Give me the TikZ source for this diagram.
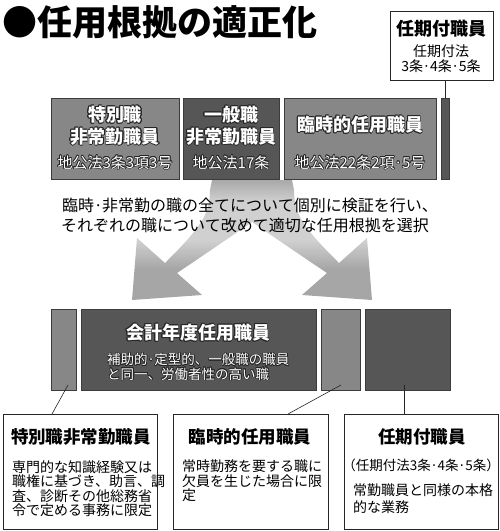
\documentclass[tikz,border=0pt]{standalone}
\usepackage{fontspec}
\setmainfont{Noto Sans CJK JP}
\usepackage{contour}
\contourlength{0.6pt}
\definecolor{midgray}{HTML}{878787}
\definecolor{darkgray}{HTML}{565656}
\definecolor{edgegray}{HTML}{3C3C3C}
\definecolor{forktop}{HTML}{A9A9A9}
\definecolor{forkmid}{HTML}{D0D0D0}
\definecolor{forkbot}{HTML}{A6A6A6}
\pgfdeclareverticalshading{forkshade}{100bp}{color(0bp)=(forkbot); color(38bp)=(forkbot);
 color(50bp)=(forkmid); color(66bp)=(forkmid); color(75bp)=(forktop); color(100bp)=(forktop)}
\newcommand{\outl}[1]{\contour{black!85}{#1}}
\newcommand{\dt}{\makebox[.5em]{·}}
\tikzset{gbox/.style={draw=edgegray,line width=.6pt,fill=midgray,minimum height=81pt,inner sep=0pt,anchor=north west},
 dbox/.style={gbox,fill=darkgray},
 wbox/.style={draw=black!85,line width=.7pt,fill=white,inner sep=0pt,anchor=north west},
 wbig/.style={text=white,inner sep=0pt,font=\bfseries\fontsize{18}{18}\selectfont},
 wsmall/.style={text=white,inner sep=0pt,font=\fontsize{15}{15}\selectfont},
 btitle/.style={inner sep=0pt,font=\bfseries\fontsize{17.5}{17.5}\selectfont},
 btext/.style={font=\fontsize{14}{14.5}\selectfont,align=left,anchor=north west,inner sep=0pt},
 link/.style={draw=black!85,line width=.6pt}}

\begin{document}
\begin{tikzpicture}[x=1pt,y=-1pt]
 \useasboundingbox (0,0) rectangle (500,531);
 \node[font=\bfseries\fontsize{35}{35}\selectfont,anchor=west,inner sep=0pt] (title) at (2,22) {●任用根拠の適正化};
 % top right box
 \node[wbox,minimum width=103pt,minimum height=69pt] (kiki) at (390,11) {};
 \node[inner sep=0pt,font=\bfseries\fontsize{18}{18}\selectfont] (kiki-t) at (441,29) {任期付職員};
 \node[inner sep=0pt,font=\fontsize{14}{14}\selectfont] (kiki-l1) at (441,51) {任期付法};
 \node[inner sep=0pt,font=\fontsize{14}{14}\selectfont] (kiki-l2) at (441,66) {3条\dt 4条\dt 5条};
 % first row
 \node[gbox,minimum width=128pt] (spec) at (51,98) {};
 \node[dbox,minimum width=96pt] (gen) at (183,98) {};
 \node[gbox,minimum width=152pt] (rinji) at (284,98) {};
 \node[dbox,minimum width=8pt] (kbar) at (441,98) {};
 \draw[link] (kbar.north) -- (kbar.north |- kiki.south);
 \node[wbig] (spec-t1) at (115,115) {\outl{特別職}};
 \node[wbig] (spec-t2) at (115,137) {\outl{非常勤職員}};
 \node[wsmall] (spec-l) at (115,163) {\outl{地公法3条3項3号}};
 \node[wbig] (gen-t1) at (231,115) {\outl{一般職}};
 \node[wbig] (gen-t2) at (231,137) {\outl{非常勤職員}};
 \node[wsmall] (gen-l) at (231,163) {\outl{地公法17条}};
 \node[wbig] (rinji-t) at (360,125) {\outl{臨時的任用職員}};
 \node[wsmall] (rinji-l) at (360,163) {\outl{地公法22条2項\dt 5号}};
 % forked arrow
 \shade[shading=forkshade] (212,180) -- (292,180) -- (294,190)
  .. controls (294,215) and (304,228) .. (339,263) -- (367,238) -- (372,300) -- (302,295) -- (327,273)
  .. controls (300,255) and (268,233) .. (252,222)
  .. controls (236,233) and (204,255) .. (177,273) -- (202,295) -- (132,300) -- (137,238) -- (165,263)
  .. controls (200,228) and (210,215) .. (210,190) -- cycle;
 \node[inner sep=0pt,font=\fontsize{16}{16}\selectfont] (note1) at (250,205) {臨時\dt 非常勤の職の全てについて個別に検証を行い、};
 \node[inner sep=0pt,font=\fontsize{16}{16}\selectfont] (note2) at (245,225) {それぞれの職について改めて適切な任用根拠を選択};
 % second row
 \node[gbox,minimum width=25pt] (sbar) at (51,309) {};
 \node[dbox,minimum width=235pt] (kaikei) at (81,309) {};
 \node[gbox,minimum width=39pt] (rbar) at (321,309) {};
 \node[dbox,minimum width=85pt] (nbar) at (365,309) {};
 \node[wbig] (kaikei-t) at (198,333) {\outl{会計年度任用職員}};
 \node[text=white,font=\fontsize{13.5}{14.5}\selectfont,align=left,anchor=north west,inner sep=0pt] (kaikei-b)
  at (107,353) {\outl{補助的\dt 定型的、一般職の職員}\\\outl{と同一、労働者性の高い職}};
 % bottom boxes
 \node[wbox,minimum width=154pt,minimum height=115pt] (tokA) at (3,414) {};
 \node[wbox,minimum width=155pt,minimum height=115pt] (rinB) at (173,414) {};
 \node[wbox,minimum width=154pt,minimum height=115pt] (ninC) at (344,414) {};
 \coordinate (sbar-p) at (68,385);
 \coordinate (rbar-p) at (341,385);
 \coordinate (nbar-p) at (404,385);
 \draw[link] (sbar-p) -- (tokA.north -| 52,0);
 \draw[link] (rbar-p) -- (rinB.north -| 288,0);
 \draw[link] (nbar-p) -- (ninC.north -| 404,0);
 \node[btitle] (tokA-t) at (81,437) {特別職非常勤職員};
 \node[btext] (tokA-b) at (12,460) {専門的な知識経験又は\\職権に基づき、助言、調\\査、診断その他総務省\\令で定める事務に限定};
 \node[btitle] (rinB-t) at (250,437) {臨時的任用職員};
 \node[btext] (rinB-b) at (182,460) {常時勤務を要する職に\\欠員を生じた場合に限\\定};
 \node[btitle] (ninC-t) at (422,437) {任期付職員};
 \node[inner sep=0pt,font=\fontsize{13.5}{13.5}\selectfont] (ninC-l) at (421,465) {（任期付法3条\dt 4条\dt 5条）};
 \node[btext,font=\fontsize{14}{16.5}\selectfont] (ninC-b) at (353,484) {常勤職員と同様の本格\\的な業務};
\end{tikzpicture}
\end{document}
